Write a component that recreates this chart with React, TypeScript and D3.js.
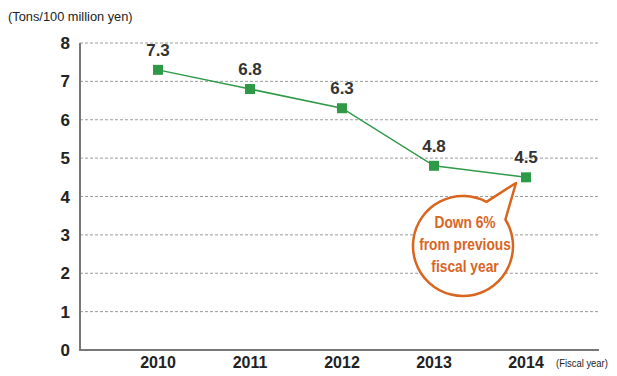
import React from "react";
import * as d3 from "d3";

const years = ["2010", "2011", "2012", "2013", "2014"];
const values = [7.3, 6.8, 6.3, 4.8, 4.5];
const yTicks = [0, 1, 2, 3, 4, 5, 6, 7, 8];
const bubbleLines = ["Down 6%", "from previous", "fiscal year"];

const W = 617;
const H = 376;
const FONT = "'Liberation Sans', Arial, sans-serif";

export default function App() {
  const x = d3.scalePoint<string>().domain(years).range([158, 526]);
  const y = d3.scaleLinear().domain([0, 8]).range([350, 43]);
  const line = d3
    .line<number>()
    .x((_, i) => x(years[i]) as number)
    .y((d) => y(d));

  const green = "#2e9a48";
  const orange = "#d9651f";
  const cx = 463;
  const cy = 246;
  const r = 50;
  const a1 = (-62 * Math.PI) / 180;
  const a2 = (-32 * Math.PI) / 180;
  const p1 = [cx + r * Math.cos(a1), cy + r * Math.sin(a1)];
  const p2 = [cx + r * Math.cos(a2), cy + r * Math.sin(a2)];
  const tip = [516, 183];
  const bubblePath = `M${p1[0]},${p1[1]} L${tip[0]},${tip[1]} L${p2[0]},${p2[1]} A${r},${r} 0 1 1 ${p1[0]},${p1[1]} Z`;
  const sx = 0.86;

  return (
    <svg
      width={W}
      height={H}
      style={{ position: "absolute", left: 0, top: 0, background: "#fff" }}
      fontFamily={FONT}
    >
      <text x={8} y={21} fontSize={13.5} fill="#222" transform="translate(8,0) scale(0.95,1) translate(-8,0)">
        (Tons/100 million yen)
      </text>
      {yTicks.map((t) => (
        <g key={t}>
          {t > 0 && (
            <line
              x1={80}
              x2={600}
              y1={y(t)}
              y2={y(t)}
              stroke="#9a9a9a"
              strokeWidth={1}
              strokeDasharray="3,2"
            />
          )}
          <text
            x={70}
            y={y(t)}
            dy="0.36em"
            textAnchor="end"
            fontSize={17}
            fontWeight="bold"
            fill="#222"
          >
            {t}
          </text>
        </g>
      ))}
      <line x1={80} x2={80} y1={43} y2={351} stroke="#777" strokeWidth={2} />
      <line x1={79} x2={599} y1={350} y2={350} stroke="#777" strokeWidth={2} />
      {years.map((yr) => (
        <text
          key={yr}
          x={x(yr)}
          y={368}
          textAnchor="middle"
          fontSize={16}
          fontWeight="bold"
          fill="#222"
        >
          {yr}
        </text>
      ))}
      <text x={556} y={367} fontSize={10.5} fill="#222" transform="translate(556,0) scale(0.9,1) translate(-556,0)">
        (Fiscal year)
      </text>
      <path d={line(values) || ""} fill="none" stroke={green} strokeWidth={1.5} />
      {values.map((v, i) => (
        <g key={i}>
          <rect
            x={(x(years[i]) as number) - 5}
            y={y(v) - 5}
            width={10}
            height={10}
            fill={green}
          />
          <text
            x={x(years[i])}
            y={y(v) - 14}
            textAnchor="middle"
            fontSize={17}
            fontWeight="bold"
            fill="#333"
          >
            {v.toFixed(1)}
          </text>
        </g>
      ))}
      <path d={bubblePath} fill="#fff" stroke={orange} strokeWidth={2.5} strokeLinejoin="round" />
      <g transform={`translate(${cx + 2},0) scale(${sx},1)`}>
        {bubbleLines.map((l, i) => (
          <text
            key={i}
            x={0}
            y={cy - 24 + i * 22}
            dy="0.35em"
            textAnchor="middle"
            fontSize={16}
            fontWeight="bold"
            fill={orange}
          >
            {l}
          </text>
        ))}
      </g>
    </svg>
  );
}
